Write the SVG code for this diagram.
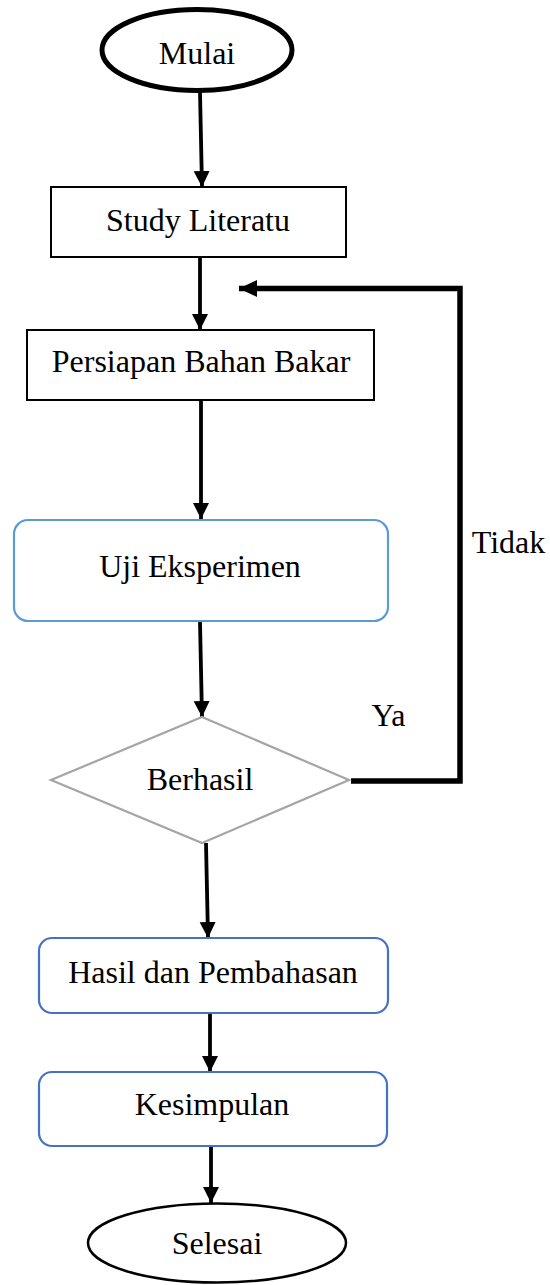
<svg xmlns="http://www.w3.org/2000/svg" width="550" height="1285" viewBox="0 0 550 1285">
<style>
text{font-family:"Liberation Serif","Times New Roman",serif;font-size:32px;fill:#000;text-anchor:middle}
.box{fill:#fff;stroke:#000;stroke-width:2}
.blue1{fill:#fff;stroke:#5B9BD5;stroke-width:2.2}
.blue2{fill:#fff;stroke:#4472C4;stroke-width:2.2}
.dia{fill:#fff;stroke:#A5A5A5;stroke-width:2.2}
.ln{fill:none;stroke:#000;stroke-width:3.8}
.thick{fill:none;stroke:#000;stroke-width:5.5}
</style>
<defs>
<marker id="ah" markerUnits="userSpaceOnUse" markerWidth="17" markerHeight="17" viewBox="0 0 17 17" refX="16" refY="8.5" orient="auto">
<path d="M0,0.5 L16,8.5 L0,16.5 Z" fill="#000"/>
</marker>
<marker id="ah2" markerUnits="userSpaceOnUse" markerWidth="19" markerHeight="19" viewBox="0 0 19 19" refX="18" refY="9.5" orient="auto">
<path d="M0,1 L18,9.5 L0,18 Z" fill="#000"/>
</marker>
</defs>
<g id="connectors">
<line class="ln" x1="200" y1="92" x2="202" y2="187" marker-end="url(#ah)"/>
<line class="ln" x1="200" y1="257" x2="200" y2="330" marker-end="url(#ah)"/>
<line class="ln" x1="201" y1="400" x2="201" y2="519" marker-end="url(#ah)"/>
<line class="ln" x1="200" y1="622" x2="202" y2="717" marker-end="url(#ah)"/>
<line class="ln" x1="206" y1="843" x2="208" y2="938" marker-end="url(#ah)"/>
<line class="ln" x1="210" y1="1013" x2="210" y2="1072" marker-end="url(#ah)"/>
<line class="ln" x1="211" y1="1146" x2="211" y2="1203" marker-end="url(#ah)"/>
<polyline class="thick" points="351,781 460,781 460,288.5 239,288.5" marker-end="url(#ah2)"/>
</g>
<g id="mulai">
<ellipse cx="197" cy="50" rx="95" ry="40.5" fill="#fff" stroke="#000" stroke-width="5"/>
<text x="197" y="64">Mulai</text>
</g>
<g id="study">
<rect class="box" x="51" y="187" width="295" height="70"/>
<text x="198" y="231">Study Literatu</text>
</g>
<g id="persiapan">
<rect class="box" x="27" y="330" width="347" height="70"/>
<text x="201" y="372">Persiapan Bahan Bakar</text>
</g>
<g id="uji">
<rect class="blue1" x="14" y="520" width="374" height="101" rx="14"/>
<text x="200" y="577">Uji Eksperimen</text>
</g>
<g id="berhasil">
<polygon class="dia" points="202,717 349,780 202,843 51,780"/>
<text x="200" y="790">Berhasil</text>
</g>
<g id="labels">
<text x="388.5" y="726">Ya</text>
<text x="508.5" y="553">Tidak</text>
</g>
<g id="hasil">
<rect class="blue2" x="39" y="938" width="349" height="75" rx="13"/>
<text x="213" y="983">Hasil dan Pembahasan</text>
</g>
<g id="kesimpulan">
<rect class="blue2" x="39" y="1072" width="348" height="74" rx="13"/>
<text x="212" y="1115">Kesimpulan</text>
</g>
<g id="selesai">
<ellipse cx="217" cy="1243" rx="129" ry="39.5" fill="#fff" stroke="#000" stroke-width="2.5"/>
<text x="217" y="1254">Selesai</text>
</g>
</svg>
